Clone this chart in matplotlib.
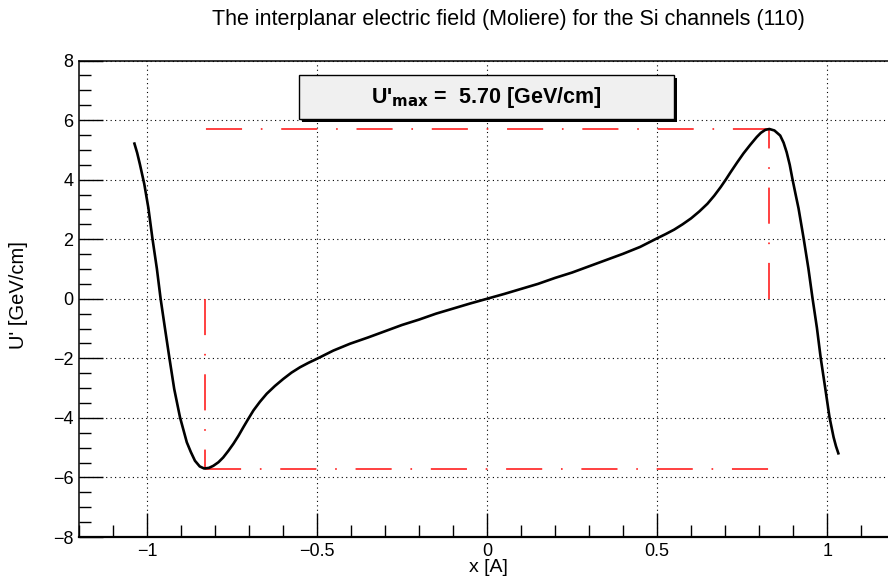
import numpy as np
import matplotlib
matplotlib.use("Agg")
import matplotlib.pyplot as plt
from matplotlib.patches import Rectangle
from matplotlib.ticker import MultipleLocator, FuncFormatter

plt.rcParams["font.family"] = ["Liberation Sans", "DejaVu Sans"]
plt.rcParams["lines.scale_dashes"] = False

# field curve, x in Angstrom, U' in GeV/cm
x_left = [-1.037, -1.029, -1.021, -1.008, -0.996, -0.984, -0.971, -0.960,
          -0.947, -0.934, -0.920, -0.903, -0.883, -0.871, -0.859, -0.845,
          -0.832, -0.818, -0.805, -0.790, -0.776, -0.761, -0.746, -0.731,
          -0.717, -0.702, -0.687, -0.668, -0.648, -0.624, -0.599, -0.575,
          -0.550, -0.525, -0.501, -0.452, -0.403, -0.350, -0.300, -0.250,
          -0.200, -0.150, -0.100, -0.050]
u_left = [5.21, 4.90, 4.52, 3.85, 3.05, 2.02, 1.01, 0.00,
          -1.01, -2.00, -3.03, -3.98, -4.82, -5.15, -5.44, -5.63,
          -5.70, -5.68, -5.61, -5.49, -5.33, -5.11, -4.87, -4.60,
          -4.32, -4.03, -3.75, -3.46, -3.19, -2.93, -2.69, -2.48,
          -2.30, -2.15, -2.02, -1.74, -1.51, -1.30, -1.09, -0.88,
          -0.70, -0.50, -0.33, -0.16]
x_right = [0.000, 0.050, 0.100, 0.150, 0.200, 0.250, 0.300, 0.350,
           0.400, 0.450, 0.500, 0.525, 0.550, 0.575, 0.600, 0.624,
           0.648, 0.668, 0.687, 0.702, 0.715, 0.735, 0.754, 0.774,
           0.793, 0.805, 0.818, 0.830, 0.845, 0.862, 0.872, 0.881,
           0.890, 0.898, 0.907, 0.916, 0.931, 0.945, 0.957, 0.970,
           0.981, 0.994, 1.007, 1.019, 1.026, 1.033]
u_right = [0.00, 0.16, 0.33, 0.50, 0.70, 0.88, 1.09, 1.30,
           1.51, 1.74, 2.03, 2.17, 2.32, 2.50, 2.70, 2.93,
           3.19, 3.46, 3.75, 4.00, 4.23, 4.57, 4.88, 5.17,
           5.43, 5.57, 5.67, 5.70, 5.65, 5.48, 5.24, 4.92,
           4.50, 4.02, 3.52, 3.03, 2.02, 1.01, 0.02, -0.98,
           -1.98, -2.97, -3.98, -4.65, -4.95, -5.19]

u_max = 5.70
x_at_max = 0.83
x_at_min = -0.83

x = np.array(x_left + x_right)
u = np.array(u_left + u_right)

fig = plt.figure(figsize=(8.88, 5.83), dpi=100)
ax = fig.add_axes([79 / 888, 46 / 583, 809 / 888, 476.5 / 583])

ax.set_xlim(-1.2, 1.179)
ax.set_ylim(-8, 8)

# dash-dot helper lines (red), drawn in the same direction as the original
dd = (0, (26, 13.5, 1.2, 13.5))
red = "#ff2020"
ax.plot([x_at_max, x_at_min], [u_max, u_max], color=red, lw=1.2, ls=dd)
ax.plot([x_at_max, x_at_max], [0, u_max], color=red, lw=1.2, ls=dd)
ax.plot([x_at_min, x_at_min], [0, -u_max], color=red, lw=1.2, ls=dd)
ax.plot([x_at_min, x_at_max], [-u_max, -u_max], color=red, lw=1.2, ls=dd)

ax.plot(x, u, color="black", lw=1.9, solid_joinstyle="round", zorder=5)

fmt = FuncFormatter(lambda v, pos: ("%g" % v).replace("-", "\u2212"))
ax.xaxis.set_major_locator(MultipleLocator(0.5))
ax.xaxis.set_minor_locator(MultipleLocator(0.1))
ax.yaxis.set_major_locator(MultipleLocator(2))
ax.yaxis.set_minor_locator(MultipleLocator(0.5))
ax.xaxis.set_major_formatter(fmt)
ax.yaxis.set_major_formatter(fmt)
ax.tick_params(which="both", direction="in", top=False, right=False,
               labelsize=13, width=1.0, color="black", pad=4)
ax.tick_params(which="major", length=17)
ax.tick_params(which="minor", length=8.5)
ax.grid(True, which="major", color="black", lw=0.8, ls=(0, (0.8, 2.4)))

ax.spines["right"].set_visible(False)
ax.spines["left"].set_linewidth(1.1)
ax.spines["bottom"].set_linewidth(1.6)
ax.spines["top"].set_linewidth(1.1)

fig.text(508 / 888, 1 - 20 / 583,
         "The interplanar electric field (Moliere) for the Si channels (110)",
         ha="center", va="center", fontsize=15.5)
fig.text(488 / 888, 1 - 568 / 583, "x [A]", ha="center", va="center", fontsize=14)
fig.text(18 / 888, 1 - 295 / 583, "U' [GeV/cm]", ha="center", va="center",
         rotation=90, fontsize=14.5)

# pave with the maximum value
bx0, bx1 = (299 - 79) / 809, (674 - 79) / 809
by0, by1 = (537 - 119) / 476.5, (537 - 75) / 476.5
sx, sy = 3 / 809, 3 / 476.5
ax.add_patch(Rectangle((bx0 + sx, by0 - sy), bx1 - bx0, by1 - by0,
                       transform=ax.transAxes, facecolor="black",
                       edgecolor="black", lw=0, zorder=6))
ax.add_patch(Rectangle((bx0, by0), bx1 - bx0, by1 - by0,
                       transform=ax.transAxes, facecolor="#f0f0f0",
                       edgecolor="black", lw=1.0, zorder=7))
ax.text((bx0 + bx1) / 2, (by0 + by1) / 2,
        r"U'$_{\mathbf{max}}$ =  %.2f [GeV/cm]" % u_max,
        transform=ax.transAxes, ha="center", va="center",
        fontsize=15.5, fontweight="bold", zorder=8)

fig.savefig("out.png", dpi=100)
